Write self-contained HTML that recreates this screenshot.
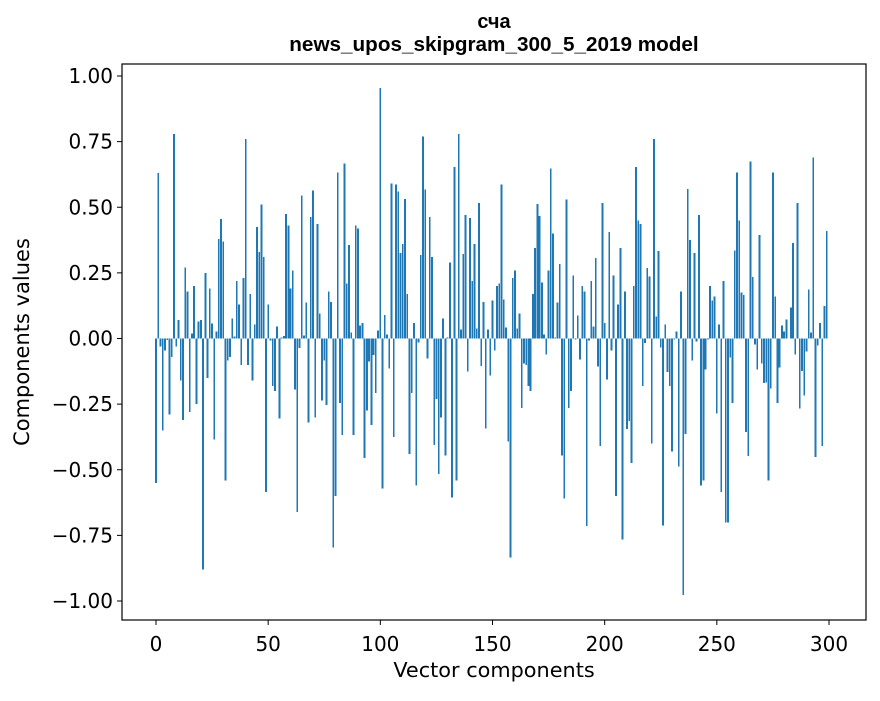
<!DOCTYPE html>
<html><head><meta charset="utf-8"><style>
html,body{margin:0;padding:0;background:#fff;}
svg text{font-family:"DejaVu Sans","Liberation Sans",sans-serif;fill:#000;}
svg text.title{font-family:"Liberation Sans","DejaVu Sans",sans-serif;font-weight:bold;}
</style></head><body>
<svg id="chart" width="880" height="696" viewBox="0 0 880 696" xmlns="http://www.w3.org/2000/svg">
<rect width="880" height="696" fill="#fff"/>
<text class="title" x="494" y="28" text-anchor="middle" font-size="20">сча</text>
<text class="title" x="494" y="51" text-anchor="middle" font-size="20.7">news_upos_skipgram_300_5_2019 model</text>
<g id="bars" shape-rendering="crispEdges"></g>
<g id="axes"></g>
<rect x="122" y="64" width="744" height="556" fill="none" stroke="#000" stroke-width="1.2"/>
<text x="494" y="677" text-anchor="middle" font-size="20.8">Vector components</text>
<text transform="translate(29,342) rotate(-90)" text-anchor="middle" font-size="21">Components values</text>
</svg>
<script>
const values = [
-0.55,0.63,-0.03,-0.35,-0.045,-0.005,-0.29,-0.07,0.78,-0.03,
0.07,-0.16,-0.31,0.27,0.18,-0.28,0.02,0.2,-0.25,0.065,
0.07,-0.88,0.25,-0.15,0.19,0.057,-0.385,0.026,0.38,0.455,
0.37,-0.54,-0.083,-0.07,0.077,0.008,0.22,0.13,-0.1,0.23,
0.76,-0.1,0.17,-0.16,0.053,0.425,0.33,0.51,0.31,
-0.585,0.13,-0.007,-0.18,-0.2,0.046,-0.305,0.004,0.01,0.475,0.43,
0.19,0.26,-0.195,-0.66,-0.037,0.545,0.012,0.137,-0.32,0.463,
0.563,-0.30,0.437,0.095,-0.237,-0.084,-0.253,0.18,0.14,-0.797,
-0.6,0.632,-0.245,-0.368,0.666,0.21,0.356,0.022,-0.368,0.43,
0.42,0.05,0.06,-0.456,-0.274,-0.088,-0.33,-0.062,-0.207,
0.03,0.954,-0.571,0.09,0.015,-0.115,0.59,-0.376,0.586,0.56,
0.326,0.36,0.532,0.17,-0.44,-0.207,0.06,-0.56,-0.016,0.318,
0.77,0.567,-0.077,0.463,0.31,-0.406,-0.23,-0.517,-0.3,0.077,
-0.445,0.004,0.29,-0.605,0.654,-0.54,0.78,0.034,0.322,0.47,
-0.125,0.46,0.22,0.36,0.038,0.517,-0.104,0.14,-0.342,0.034,
-0.141,0.145,-0.045,0.2,0.21,0.586,0.149,0.042,-0.393,-0.834,
0.23,0.26,0.038,0.095,-0.264,-0.096,-0.1,-0.18,-0.2,0.17,
0.344,0.513,0.467,0.214,0.015,-0.06,0.26,0.648,0.4,0.004,
0.137,0.284,-0.445,-0.61,0.53,-0.264,-0.2,0.24,-0.004,0.088,
-0.08,0.2,0.18,-0.715,-0.008,0.22,0.046,0.306,-0.107,-0.41,
0.517,0.06,-0.157,0.406,-0.046,0.24,-0.6,0.13,0.344,-0.765,
0.18,-0.345,-0.314,-0.475,0.2,0.654,0.45,0.437,-0.18,-0.018,
0.268,0.237,-0.4,0.76,0.084,0.333,-0.034,-0.712,0.053,-0.127,
-0.18,-0.43,-0.003,0.026,-0.487,0.18,-0.978,-0.363,0.57,0.375,
-0.084,0.326,-0.012,0.47,-0.56,-0.54,-0.119,-0.004,
0.2,0.145,0.16,-0.286,0.053,-0.585,0.22,-0.7,-0.7,-0.073,
-0.245,0.336,0.632,0.449,0.175,0.165,-0.356,-0.447,0.674,0.234,
-0.022,-0.119,0.394,-0.096,-0.17,-0.168,-0.54,-0.19,0.632,0.16,
-0.245,-0.11,0.05,0.026,0.073,0,
0.119,0.364,-0.06,0.517,-0.266,-0.123,-0.218,-0.049,0.187,0.022,
0.689,-0.451,-0.026,0.06,-0.41,0.123,0.41
];
const xTicks = [0,50,100,150,200,250,300];
const yTicks = [1.00,0.75,0.50,0.25,0.00,-0.25,-0.50,-0.75,-1.00];
const yTickLabels = ["1.00","0.75","0.50","0.25","0.00","\u22120.25","\u22120.50","\u22120.75","\u22121.00"];

const NS = "http://www.w3.org/2000/svg";
function xScale(v){ return 156 + (829 - 156) * v / 300; }
function yScale(v){ return 338.5 - 262.5 * v; }
const barsG = document.getElementById('bars');
const bw = (xScale(1) - xScale(0)) * 0.8;
values.forEach((v, i) => {
  const r = document.createElementNS(NS, 'rect');
  
  
  const y0 = yScale(0), y1 = yScale(v);
  r.setAttribute('x', xScale(i) - bw / 2);
  r.setAttribute('width', bw);
  r.setAttribute('y', Math.min(y0, y1));
  r.setAttribute('height', Math.max(Math.abs(y1 - y0), 0.01));
  r.setAttribute('fill', '#1f77b4');
  barsG.appendChild(r);
});
const axesG = document.getElementById('axes');
xTicks.forEach(t => {
  const x = xScale(t);
  const l = document.createElementNS(NS, 'line');
  
  
  l.setAttribute('x1', x); l.setAttribute('x2', x);
  l.setAttribute('y1', 620); l.setAttribute('y2', 625);
  l.setAttribute('stroke', '#000');
  axesG.appendChild(l);
  const tx = document.createElementNS(NS, 'text');
  
  
  tx.setAttribute('x', x); tx.setAttribute('y', 651);
  tx.setAttribute('text-anchor', 'middle');
  tx.setAttribute('font-size', '20');
  tx.textContent = String(t);
  axesG.appendChild(tx);
});
yTicks.forEach((t, k) => {
  const y = yScale(t);
  const l = document.createElementNS(NS, 'line');
  
  
  l.setAttribute('x1', 117); l.setAttribute('x2', 122);
  l.setAttribute('y1', y); l.setAttribute('y2', y);
  l.setAttribute('stroke', '#000');
  axesG.appendChild(l);
  const tx = document.createElementNS(NS, 'text');
  
  
  tx.setAttribute('x', 113); tx.setAttribute('y', y + 7);
  tx.setAttribute('text-anchor', 'end');
  tx.setAttribute('font-size', '20');
  tx.textContent = yTickLabels[k];
  axesG.appendChild(tx);
});
</script>
</body></html>
